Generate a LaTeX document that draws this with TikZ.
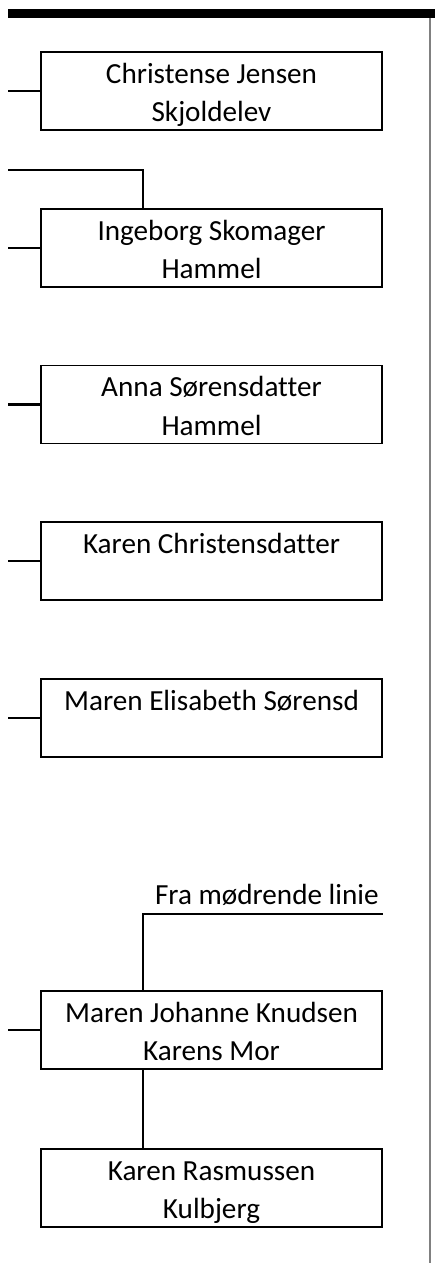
\documentclass[tikz,border=0pt]{standalone}
\usepackage{fontspec}
\setmainfont{Carlito}[Ligatures = CommonOff]

\newcommand{\pstr}{\rule[-0.1cm]{0pt}{0.66cm}}

\begin{document}
\begin{tikzpicture}[
	person/.style = {draw, line width = 1.1 pt, minimum width = 6.82 cm, minimum height = 1.56 cm, inner sep = 0 pt, align = center, font = \fontsize{16.6}{22.1}\selectfont},
	link/.style = {line width = 1.2 pt}
	]
	 \useasboundingbox (0, 0) rectangle (8.7, -25.26);
	 
	 \fill (0.16, -0.18) rectangle (8.7, -0.36);
	 \draw[gray, line width = 0.8 pt] (8.6, -0.36) -- (8.6, -25.26);
	 
	 \coordinate (edge) at (0.16, 0);
	 
	 \node[person] (christense) at (4.23, -1.82) {Christense Jensen\pstr\\Skjoldelev\pstr};
	 \node[person] (ingeborg) at (4.23, -4.96) {Ingeborg Skomager\pstr\\Hammel\pstr};
	 \node[person] (anna) at (4.23, -8.09) {Anna Sørensdatter\pstr\\Hammel\pstr};
	 \node[person] (karenc) at (4.23, -11.22) {Karen Christensdatter\pstr\\\pstr};
	 \node[person] (elisabeth) at (4.23, -14.36) {Maren Elisabeth Sørensd\pstr\\\pstr};
	 \node[person] (johanne) at (4.23, -20.60) {Maren Johanne Knudsen\pstr\\Karens Mor\pstr};
	 \node[person] (karenr) at (4.23, -23.76) {Karen Rasmussen\pstr\\Kulbjerg\pstr};
	 
	 \foreach \p in {christense, ingeborg, anna, karenc, elisabeth, johanne}
	 \draw[link] (\p.west) -- (\p.west -| edge);
	 
	 % line over Ingeborg
	 \coordinate (ingtop) at ([xshift = 2.06 cm] ingeborg.north west);
	 \coordinate (farline) at (0.16, -3.40);
	 \draw[link] (ingtop) |- (farline);
	 
	 % mother's side
	 \coordinate (jtop) at ([xshift = 2.06 cm] johanne.north west);
	 \coordinate (jbot) at ([xshift = 2.06 cm] johanne.south west);
	 \coordinate (morline) at (7.66, -18.28);
	 \draw[link] (jtop) |- (morline);
	 \node[anchor = base east, inner sep = 0 pt, font = \fontsize{16.6}{22.1}\selectfont] (fra) at (7.58, -18.08) {Fra mødrende linie};
	 
	 \draw[link] (jbot) -- (karenr.north -| jbot);
\end{tikzpicture}
\end{document}
